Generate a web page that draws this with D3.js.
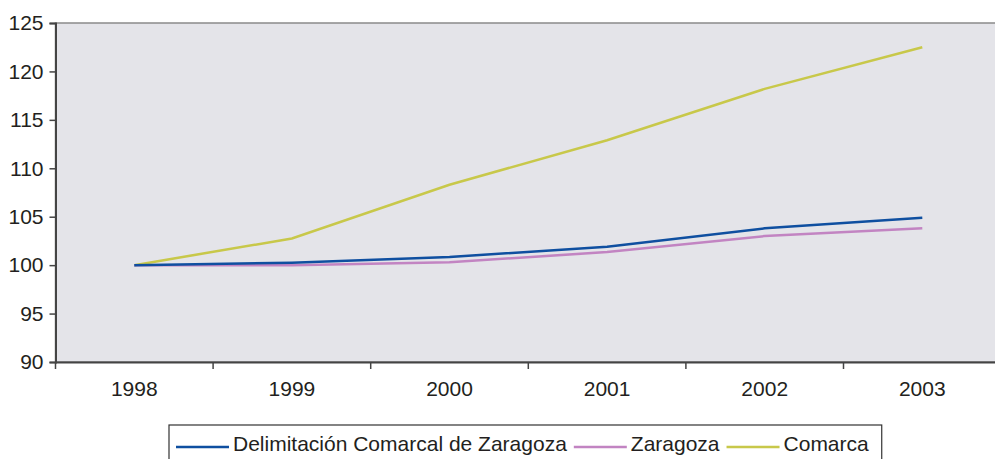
<!DOCTYPE html>
<html>
<head>
<meta charset="utf-8">
<title>Delimitación Comarcal de Zaragoza</title>
<script src="https://d3js.org/d3.v7.min.js"></script>
<style>
  body { margin: 0; background: #fff; }
  text { font-family: "Liberation Sans", Arial, sans-serif; fill: #231f20; }
</style>
</head>
<body>
<svg></svg>
<script>
// data
var years = ["1998", "1999", "2000", "2001", "2002", "2003"];
var delimitacion = [100, 100.25, 100.85, 101.9, 103.8, 104.9];
var zaragoza = [100, 100.0, 100.3, 101.35, 103.0, 103.8];
var comarca = [100, 102.75, 108.3, 112.9, 118.2, 122.5];
var seriesNames = ["Delimitación Comarcal de Zaragoza", "Zaragoza", "Comarca"];
var yTicks = [90, 95, 100, 105, 110, 115, 120, 125];

var config = {
  width: 995,
  height: 459,
  left: 55.5,
  top: 23,
  bottom: 362,
  step: 157.6
};
var colors = ["#0f4fa0", "#c284c2", "#c8c84a"];
var series = [delimitacion, zaragoza, comarca];

var svg = d3.select("svg")
  .attr("width", config.width)
  .attr("height", config.height);

var x = d3.scaleBand()
  .domain(years)
  .range([config.left, config.left + config.step * years.length]);

var y = d3.scaleLinear()
  .domain([90, 125])
  .range([config.bottom, config.top]);

// plot background
svg.append("rect")
  .attr("x", config.left)
  .attr("y", config.top)
  .attr("width", config.width - config.left + 10)
  .attr("height", config.bottom - config.top)
  .attr("fill", "#e4e4e9")
  .attr("stroke", "#8a8a8a")
  .attr("stroke-width", 1.5);

// y axis
var yAxis = svg.append("g")
  .attr("transform", "translate(" + config.left + ",0)")
  .call(d3.axisLeft(y).tickValues(yTicks).tickSize(6).tickPadding(6).tickFormat(d3.format("d")));
yAxis.select(".domain").attr("stroke", "#444").attr("stroke-width", 2);
yAxis.selectAll(".tick line").attr("stroke", "#444").attr("stroke-width", 1.5);
yAxis.selectAll("text").style("font-size", "21px").attr("fill", "#231f20");

// x axis, ticks between categories
var xAxis = svg.append("g")
  .attr("transform", "translate(0," + config.bottom + ")")
  .call(d3.axisBottom(x).tickSize(0).tickPadding(19));
xAxis.select(".domain").attr("stroke", "#444").attr("stroke-width", 2);
xAxis.selectAll("text").style("font-size", "21px").attr("fill", "#231f20");
xAxis.selectAll(".sep")
  .data(years)
  .enter().append("line")
  .attr("class", "sep")
  .attr("x1", function(d) { return x(d); })
  .attr("x2", function(d) { return x(d); })
  .attr("y1", 0)
  .attr("y2", 7)
  .attr("stroke", "#444")
  .attr("stroke-width", 1.5);

// lines
var line = d3.line()
  .x(function(d, i) { return x(years[i]) + x.bandwidth() / 2; })
  .y(function(d) { return y(d); });

svg.append("g")
  .selectAll("path")
  .data(series.slice().reverse())
  .enter().append("path")
  .attr("d", line)
  .attr("fill", "none")
  .attr("stroke", function(d, i) { return colors[2 - i]; })
  .attr("stroke-width", 2.5);

// legend
var legend = svg.append("g").attr("transform", "translate(169,425)");
var lx = 7;
var items = legend.selectAll("g")
  .data(seriesNames)
  .enter().append("g");
items.each(function(name, i) {
  var g = d3.select(this);
  g.append("line")
    .attr("x1", lx).attr("x2", lx + 53)
    .attr("y1", 22).attr("y2", 22)
    .attr("stroke", colors[i])
    .attr("stroke-width", 2.5);
  var t = g.append("text")
    .attr("x", lx + 57)
    .attr("y", 26)
    .style("font-size", "21px")
    .text(name);
  lx += 57 + t.node().getComputedTextLength() + 7;
});
legend.insert("rect", ":first-child")
  .attr("x", 0)
  .attr("y", 0)
  .attr("width", lx + 6)
  .attr("height", 45)
  .attr("fill", "#fff")
  .attr("stroke", "#333")
  .attr("stroke-width", 1.2);
</script>
</body>
</html>
